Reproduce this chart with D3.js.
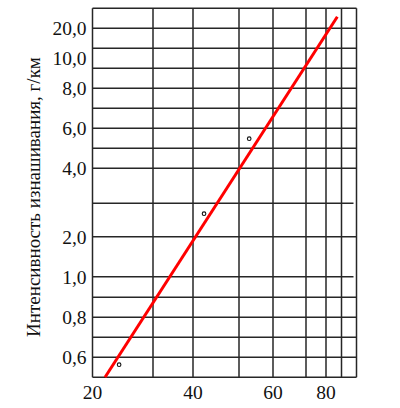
<!DOCTYPE html>
<html>
<head>
<meta charset="utf-8">
<script src="https://cdn.jsdelivr.net/npm/d3@7"></script>
<style>
  body { margin: 0; background: #fff; }
  text { font-family: "Liberation Serif", "Times New Roman", serif; fill: #111; }
</style>
</head>
<body>
<div id="chart"></div>
<script>
// grid values (the paper grid is irregular, so the scales are piecewise)
const xGrid = [20, 30, 40, 50, 60, 70, 80, 90, 100];
const yGrid = [0.5, 0.6, 0.7, 0.8, 0.9, 1, 2, 3, 4, 5, 6, 7, 8, 9, 11, 20, 30];
const yShortGrid = [1, 3];   // these two lines stop short of the right edge

// tick labels
const xTicks = [20, 40, 60, 80];
const yTicks = [0.6, 0.8, 1, 2, 4, 6, 8, 10, 20];

// measured points and the fitted line
const pointsX = [24.4, 42.4, 53.0];
const pointsY = [0.563, 2.69, 5.48];
const fitX = [22.07, 87.3];
const fitY = [0.5, 25.8];

var width = 400, height = 408;

var svg = d3.select("#chart")
    .append("svg")
    .attr("width", width)
    .attr("height", height);

// x scale: piecewise over grid lines
var x = d3.scaleLinear()
    .domain(xGrid)
    .range([92.5, 153, 193, 239, 273, 306, 326, 341.5, 356.5]);

// y scale: piecewise over grid lines
var y = d3.scaleLinear()
    .domain(yGrid)
    .range([377.3, 357.3, 337.3, 317.3, 297.3, 276.7, 236.7, 203.3, 168.3,
            148.3, 128.3, 108.3, 88.3, 68.3, 48.3, 28.3, 8.3]);

var gridColor = "#262626";

// vertical grid lines
svg.append("g")
    .selectAll("line")
    .data(xGrid)
    .enter()
    .append("line")
    .attr("x1", function(d) { return x(d); })
    .attr("x2", function(d) { return x(d); })
    .attr("y1", y(yGrid[0]))
    .attr("y2", y(yGrid[yGrid.length - 1]))
    .attr("stroke", gridColor)
    .attr("stroke-width", 1.5);

// horizontal grid lines
svg.append("g")
    .selectAll("line")
    .data(yGrid)
    .enter()
    .append("line")
    .attr("x1", x(xGrid[0]))
    .attr("x2", function(d) { return yShortGrid.includes(d) ? x(98) : x(xGrid[xGrid.length - 1]); })
    .attr("y1", function(d) { return y(d); })
    .attr("y2", function(d) { return y(d); })
    .attr("stroke", gridColor)
    .attr("stroke-width", 1.5);

// y tick labels
svg.append("g")
    .selectAll("text")
    .data(yTicks)
    .enter()
    .append("text")
    .attr("x", x(xGrid[0]) - 6)
    .attr("y", function(d) { return y(d); })
    .attr("dy", "0.35em")
    .attr("text-anchor", "end")
    .style("font-size", "19.5px")
    .text(function(d) { return d.toFixed(1).replace(".", ","); });

// x tick labels
svg.append("g")
    .selectAll("text")
    .data(xTicks)
    .enter()
    .append("text")
    .attr("x", function(d) { return x(d); })
    .attr("y", 399)
    .attr("text-anchor", "middle")
    .style("font-size", "19.5px")
    .text(function(d) { return d; });

// y axis title
svg.append("text")
    .attr("transform", "translate(40,197) rotate(-90)")
    .attr("text-anchor", "middle")
    .style("font-size", "19px")
    .text("Интенсивность изнашивания, г/км");

// fitted line
svg.append("path")
    .datum(d3.zip(fitX, fitY))
    .attr("fill", "none")
    .attr("stroke", "#ff0000")
    .attr("stroke-width", 3)
    .attr("d", d3.line()
        .x(function(d) { return x(d[0]); })
        .y(function(d) { return y(d[1]); })
    );

// measured points
svg.append("g")
    .selectAll("circle")
    .data(d3.zip(pointsX, pointsY))
    .enter()
    .append("circle")
    .attr("cx", function(d) { return x(d[0]); })
    .attr("cy", function(d) { return y(d[1]); })
    .attr("r", 1.8)
    .attr("fill", "#fff")
    .attr("stroke", "#111")
    .attr("stroke-width", 1.1);
</script>
</body>
</html>
